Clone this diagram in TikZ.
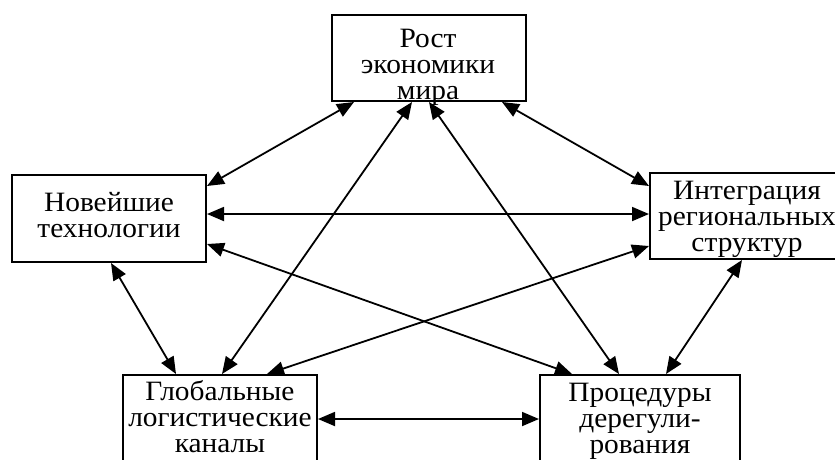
\documentclass[tikz,border=0pt]{standalone}
\usepackage{fontspec}
\setmainfont[FakeStretch=1.05]{Liberation Serif}
\usetikzlibrary{arrows.meta,calc}
\tikzset{
  box/.style={draw=black, line width=2pt, rectangle, inner sep=0pt, fill=white},
  lbl/.style={align=center, inner sep=0pt, font=\fontsize{28}{26}\selectfont, anchor=base},
  link/.style={line width=1.8pt, {Triangle[length=17pt,width=14pt]}-{Triangle[length=17pt,width=14pt]}}
}
\begin{document}
\begin{tikzpicture}[x=1pt,y=-1pt]
\useasboundingbox (0,0) rectangle (835,459);
\clip (0,0) rectangle (835,459);
\node[box, minimum width=194pt, minimum height=86pt] (top) at (429,58) {};
\node[box, minimum width=194pt, minimum height=87pt] (left) at (109,218.5) {};
\node[box, minimum width=186pt, minimum height=86pt] (right) at (743,216) {};
\node[box, minimum width=194pt, minimum height=100pt] (bl) at (220,425) {};
\node[box, minimum width=200pt, minimum height=100pt] (br) at (640,425) {};

\node[lbl] (topT) at (428,99) {Рост\\экономики\\мира};
\node[lbl] (leftT) at (109,237) {Новейшие\\технологии};
\node[lbl] (rightT) at (747,251) {Интеграция\\региональных\\структур};
\node[lbl] (blT) at (220,452) {Глобальные\\логистические\\каналы};
\node[lbl] (brT) at (640,453) {Процедуры\\дерегули-\\рования};

\draw[link] ($(top.south west)+(23,0)$) -- ($(left.north east)+(0,12)$);
\draw[link] ($(top.south west)+(171,0)$) -- ($(right.north west)+(0,14)$);
\draw[link] ($(top.south west)+(81,0)$) -- ($(bl.north west)+(100,0)$);
\draw[link] ($(top.south west)+(98,0)$) -- ($(br.north west)+(80,0)$);
\draw[link] ($(left.north east)+(0,40)$) -- ($(right.north west)+(0,42)$);
\draw[link] ($(left.north east)+(0,70)$) -- ($(br.north west)+(33,0)$);
\draw[link] ($(right.north west)+(0,74)$) -- ($(bl.north west)+(145,0)$);
\draw[link] ($(left.south west)+(100,0)$) -- ($(bl.north west)+(54,0)$);
\draw[link] ($(right.south west)+(93,0)$) -- ($(br.north west)+(127,0)$);
\draw[link] ($(bl.north east)+(0,45)$) -- ($(br.north west)+(0,45)$);
\end{tikzpicture}
\end{document}
